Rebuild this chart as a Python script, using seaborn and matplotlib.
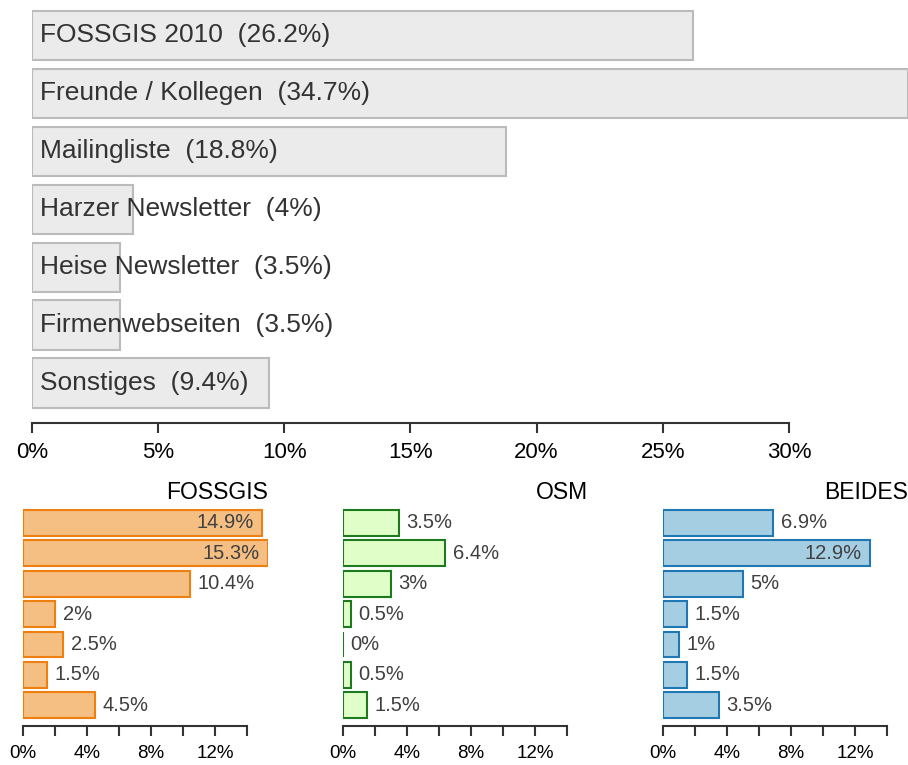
import matplotlib
matplotlib.use("Agg")
import matplotlib.pyplot as plt
from matplotlib.ticker import FixedLocator, FuncFormatter
import pandas as pd
import seaborn as sns

# --- Données ---
kategorien = ["FOSSGIS 2010", "Freunde / Kollegen", "Mailingliste", "Harzer Newsletter",
              "Heise Newsletter", "Firmenwebseiten", "Sonstiges"]
gesamt = [26.2, 34.7, 18.8, 4, 3.5, 3.5, 9.4]
fossgis = [14.9, 15.3, 10.4, 2, 2.5, 1.5, 4.5]
osm = [3.5, 6.4, 3, 0.5, 0, 0.5, 1.5]
beides = [6.9, 12.9, 5, 1.5, 1, 1.5, 3.5]

gruppen = ["FOSSGIS", "OSM", "BEIDES"]
farben = {"FOSSGIS": ("#F5BE82", "#EE7F10"),
          "OSM": ("#E0FFC8", "#1E7A1E"),
          "BEIDES": ("#A6CEE3", "#1F78B4")}

sns.set_theme(style="white")
plt.rcParams["font.family"] = ["Liberation Sans", "DejaVu Sans"]

W, H = 908, 765
fig = plt.figure(figsize=(W / 100, H / 100), dpi=100)


def px_axes(x0, x1, y0, y1):
    # Achsen in Pixelkoordinaten (y von oben)
    return fig.add_axes([x0 / W, 1 - y1 / H, (x1 - x0) / W, (y1 - y0) / H])


def pct(v, _=None):
    return f"{v:g}%"


def style_axis(ax, bound, major, minor, size):
    sns.despine(ax=ax, left=True)
    ax.spines["bottom"].set_bounds(0, bound)
    ax.spines["bottom"].set_color("#333333")
    ax.spines["bottom"].set_linewidth(1.5)
    ax.set_ylabel("")
    ax.set_xlabel("")
    ax.set_yticks([])
    ax.xaxis.set_major_locator(FixedLocator(major))
    ax.xaxis.set_minor_locator(FixedLocator(minor))
    ax.xaxis.set_major_formatter(FuncFormatter(pct))
    ax.tick_params(axis="x", which="both", bottom=True, direction="out", length=7,
                   width=1.5, color="#333333")
    ax.tick_params(axis="x", which="major", labelsize=size, labelcolor="black", pad=7)
    ax.set_facecolor("none")


# --- Haupt-Diagramm ---
df = pd.DataFrame({"kategorie": kategorien, "wert": gesamt})
ax = px_axes(32, 907.5, 0, 423)
sns.barplot(data=df, y="kategorie", x="wert", orient="h", ax=ax, width=0.85,
            color="#EBEBEB", edgecolor="#BBBBBB", linewidth=1.5, saturation=1)
ax.set_xlim(0, max(gesamt))
ax.set_ylim(6.69, -0.61)
style_axis(ax, 30, [0, 5, 10, 15, 20, 25, 30], [], 16)
for i, (k, v) in enumerate(zip(kategorien, gesamt)):
    ax.annotate(f"{k}  ({v:g}%)", xy=(0, i), xytext=(6, 0), textcoords="offset points",
                ha="left", va="center", fontsize=19, color="#333333")

# --- Teil-Diagramme ---
xmax = max(max(fossgis), max(osm), max(beides))
for n, (name, werte) in enumerate(zip(gruppen, [fossgis, osm, beides])):
    x0 = 23 + n * 320
    sub = pd.DataFrame({"kategorie": kategorien, "wert": werte})
    fill, edge = farben[name]
    a = px_axes(x0, x0 + 245, 504, 726)
    sns.barplot(data=sub, y="kategorie", x="wert", orient="h", ax=a, width=0.85,
                color=fill, edgecolor=edge, linewidth=1.5, saturation=1)
    a.set_xlim(0, xmax)
    a.set_ylim(6.68, -0.62)
    style_axis(a, 14, [0, 4, 8, 12], [2, 6, 10, 14], 13.5)
    a.set_title(name, loc="right", fontsize=16.5, color="black", pad=1)
    for i, v in enumerate(werte):
        if v > 11:
            a.annotate(pct(v), xy=(v, i), xytext=(-6, 0), textcoords="offset points",
                       ha="right", va="center", fontsize=14.5, color="#404040")
        else:
            a.annotate(pct(v), xy=(v, i), xytext=(5.5, 0), textcoords="offset points",
                       ha="left", va="center", fontsize=14.5, color="#404040")

fig.savefig("out.png", dpi=100)
